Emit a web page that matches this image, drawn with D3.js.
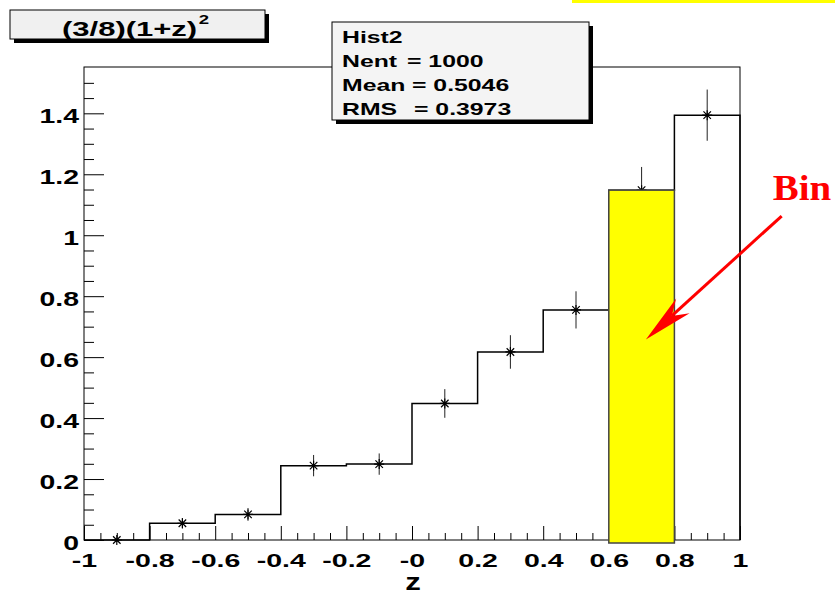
<!DOCTYPE html>
<html lang="en">
<head>
<meta charset="utf-8">
<title>Hist2</title>
<style>
  body { margin: 0; background: #fff; }
  svg text { font-family: "Liberation Sans", Arial, sans-serif; font-weight: bold; }
  svg text.serif { font-family: "Liberation Serif", "Times New Roman", serif; }
</style>
</head>
<body>
<div id="chart"></div>
<script src="https://d3js.org/d3.v7.min.js"></script>
<script>
// histogram data
var binEdges = [-1, -0.8, -0.6, -0.4, -0.2, 0, 0.2, 0.4, 0.6, 0.8, 1];
var binValues = [0, 0.055, 0.084, 0.244, 0.249, 0.448, 0.617, 0.755, 1.148, 1.394];
var binErrors = [0, 0.017, 0.021, 0.035, 0.035, 0.047, 0.055, 0.061, 0.076, 0.084];
var highlightBin = 8;

var xTicks = [-1, -0.8, -0.6, -0.4, -0.2, 0, 0.2, 0.4, 0.6, 0.8, 1];
var xTickLabels = ["-1", "-0.8", "-0.6", "-0.4", "-0.2", "-0", "0.2", "0.4", "0.6", "0.8", "1"];
var yTicks = [0, 0.2, 0.4, 0.6, 0.8, 1, 1.2, 1.4];
var yTickLabels = ["0", "0.2", "0.4", "0.6", "0.8", "1", "1.2", "1.4"];

var statNames = ["Nent", "Mean", "RMS"];
var statValues = ["1000", "0.5046", "0.3973"];

// arrow annotation in data coordinates: [tail, tip]
var arrowPts = [[1.127, 1.063], [0.713, 0.658]];
var binLabelPos = [1.10, 1.115];

(function() {
var width = 835, height = 595;
var padL = 84, padR = 740, padT = 67, padB = 540;
var yMax = 1.552;

var svg = d3.select("#chart").append("svg")
    .attr("width", width)
    .attr("height", height);

svg.append("rect").attr("width", width).attr("height", height).attr("fill", "#fff");

var x = d3.scaleLinear().domain([-1, 1]).range([padL, padR]);
var y = d3.scaleLinear().domain([0, yMax]).range([padB, padT]);

// frame
svg.append("rect")
    .attr("x", padL).attr("y", padT)
    .attr("width", padR - padL).attr("height", padB - padT)
    .attr("fill", "none").attr("stroke", "#000").attr("stroke-width", 1);

// minor ticks every 0.05
var xMinor = d3.range(-0.95, 0.96, 0.05).filter(function(d) {
    return Math.abs(Math.round(d * 5) - d * 5) > 0.01;
});
var yMinor = d3.range(0.05, 1.51, 0.05).filter(function(d) {
    return Math.abs(Math.round(d * 5) - d * 5) > 0.01;
});

svg.append("g")
    .attr("transform", "translate(0," + padB + ")")
    .call(d3.axisBottom(x).tickValues(xMinor).tickSize(-7).tickSizeOuter(0).tickFormat(""))
    .call(function(g) { g.select(".domain").remove(); });

var xAxis = svg.append("g")
    .attr("transform", "translate(0," + padB + ")")
    .call(d3.axisBottom(x).tickValues(xTicks).tickSize(-14).tickSizeOuter(0)
        .tickFormat(function(d, i) { return xTickLabels[i]; }));
xAxis.select(".domain").remove();
xAxis.selectAll("text")
    .attr("y", 27).attr("dy", 0)
    .attr("font-size", 19)
    .attr("fill", "#000")
    .attr("transform", "scale(1.5,1)");
xAxis.attr("font-family", null).attr("font-size", null);

svg.append("g")
    .attr("transform", "translate(" + padL + ",0)")
    .call(d3.axisLeft(y).tickValues(yMinor).tickSize(-10).tickSizeOuter(0).tickFormat(""))
    .call(function(g) { g.select(".domain").remove(); });

var yAxis = svg.append("g")
    .attr("transform", "translate(" + padL + ",0)")
    .call(d3.axisLeft(y).tickValues(yTicks).tickSize(-20).tickSizeOuter(0)
        .tickFormat(function(d, i) { return yTickLabels[i]; }));
yAxis.select(".domain").remove();
yAxis.selectAll("text")
    .attr("x", -3.5).attr("dy", "0.45em")
    .attr("font-size", 20)
    .attr("fill", "#000")
    .attr("transform", "scale(1.42,1)");
yAxis.attr("font-family", null).attr("font-size", null);

svg.selectAll(".tick line").attr("stroke", "#000");

// axis title
svg.append("text")
    .attr("transform", "translate(" + (x(0) + 1) + ",590) scale(1.3,1)")
    .attr("text-anchor", "middle")
    .attr("font-size", 24)
    .text("z");

// histogram outline
var steps = [];
binValues.forEach(function(v, i) {
    steps.push([binEdges[i], v]);
    steps.push([binEdges[i + 1], v]);
});
steps.push([binEdges[binEdges.length - 1], 0]);

svg.append("path")
    .datum(steps)
    .attr("d", d3.line().x(function(d) { return x(d[0]); }).y(function(d) { return y(d[1]); }))
    .attr("fill", "none")
    .attr("stroke", "#000")
    .attr("stroke-width", 1.5);

// error bars and star markers
var centers = binValues.map(function(v, i) {
    return { x: (binEdges[i] + binEdges[i + 1]) / 2, v: v, e: binErrors[i] };
});

svg.append("g").selectAll("line")
    .data(centers.filter(function(d) { return d.e > 0; }))
    .enter().append("line")
    .attr("x1", function(d) { return x(d.x); })
    .attr("x2", function(d) { return x(d.x); })
    .attr("y1", function(d) { return y(d.v - d.e); })
    .attr("y2", function(d) { return y(d.v + d.e); })
    .attr("stroke", "#222")
    .attr("stroke-width", 1);

var ms = 5;
var stars = svg.append("g").selectAll("g")
    .data(centers)
    .enter().append("g")
    .attr("transform", function(d) { return "translate(" + x(d.x) + "," + y(d.v) + ")"; });
stars.append("path")
    .attr("d", "M" + (-ms) + ",0H" + ms + "M0," + (-ms) + "V" + ms +
        "M" + (-ms * 0.75) + "," + (-ms * 0.75) + "L" + (ms * 0.75) + "," + (ms * 0.75) +
        "M" + (-ms * 0.75) + "," + (ms * 0.75) + "L" + (ms * 0.75) + "," + (-ms * 0.75))
    .attr("stroke", "#000")
    .attr("stroke-width", 1.2)
    .attr("fill", "none");

// highlighted bin
svg.append("rect")
    .attr("x", x(binEdges[highlightBin]))
    .attr("y", y(binValues[highlightBin]))
    .attr("width", x(binEdges[highlightBin + 1]) - x(binEdges[highlightBin]))
    .attr("height", y(0) + 3 - y(binValues[highlightBin]))
    .attr("fill", "#ffff00")
    .attr("stroke", "#444")
    .attr("stroke-width", 1.5);

// arrow
var p0 = [x(arrowPts[0][0]), y(arrowPts[0][1])];
var p1 = [x(arrowPts[1][0]), y(arrowPts[1][1])];
var dx = p0[0] - p1[0], dy = p0[1] - p1[1];
var len = Math.sqrt(dx * dx + dy * dy);
var ux = dx / len, uy = dy / len;
var px = -uy, py = ux;
var headLen = 50, headW = 10, notch = 35;
svg.append("line")
    .attr("x1", p0[0]).attr("y1", p0[1])
    .attr("x2", p1[0] + ux * notch).attr("y2", p1[1] + uy * notch)
    .attr("stroke", "#ff0000").attr("stroke-width", 3);
svg.append("path")
    .attr("d", "M" + p1[0] + "," + p1[1] +
        "L" + (p1[0] + ux * headLen + px * headW) + "," + (p1[1] + uy * headLen + py * headW) +
        "L" + (p1[0] + ux * notch) + "," + (p1[1] + uy * notch) +
        "L" + (p1[0] + ux * headLen - px * headW) + "," + (p1[1] + uy * headLen - py * headW) + "Z")
    .attr("fill", "#ff0000");

svg.append("text")
    .attr("class", "serif")
    .attr("transform", "translate(" + x(binLabelPos[0]) + "," + y(binLabelPos[1]) + ") scale(1.08,1)")
    .attr("font-size", 36)
    .attr("fill", "#ff0000")
    .text("Bin");

// stats box
var sb = { x: 332, y: 22, w: 257, h: 98 };
svg.append("rect")
    .attr("x", sb.x + 4).attr("y", sb.y + 4).attr("width", sb.w).attr("height", sb.h)
    .attr("fill", "#000");
svg.append("rect")
    .attr("x", sb.x).attr("y", sb.y).attr("width", sb.w).attr("height", sb.h)
    .attr("fill", "#f4f4f4").attr("stroke", "#000").attr("stroke-width", 1);

svg.append("text")
    .attr("transform", "translate(342,43) scale(1.55,1)")
    .attr("font-size", 16)
    .text("Hist2");
var eqX = [407, 412, 414];
statNames.forEach(function(name, i) {
    var by = 67 + i * 24;
    svg.append("text")
        .attr("transform", "translate(342," + by + ") scale(1.55,1)")
        .attr("font-size", 16)
        .text(name);
    svg.append("text")
        .attr("transform", "translate(" + eqX[i] + "," + by + ") scale(1.55,1)")
        .attr("font-size", 16)
        .text("= " + statValues[i]);
});

// title box
svg.append("rect")
    .attr("x", 14).attr("y", 14).attr("width", 255).attr("height", 29)
    .attr("fill", "#000");
svg.append("rect")
    .attr("x", 10).attr("y", 10).attr("width", 255).attr("height", 29)
    .attr("fill", "#f0f0f0").attr("stroke", "#000").attr("stroke-width", 1);
var title = svg.append("text")
    .attr("transform", "translate(62,36) scale(1.55,1)")
    .attr("font-size", 20);
title.append("tspan").text("(3/8)(1+z)");
title.append("tspan").attr("dy", -12).attr("dx", 1).attr("font-size", 12).text("2");

// cut-off yellow strip at top right
svg.append("rect")
    .attr("x", 572).attr("y", 0).attr("width", width - 572).attr("height", 3)
    .attr("fill", "#ffff00");
})();
</script>
</body>
</html>
